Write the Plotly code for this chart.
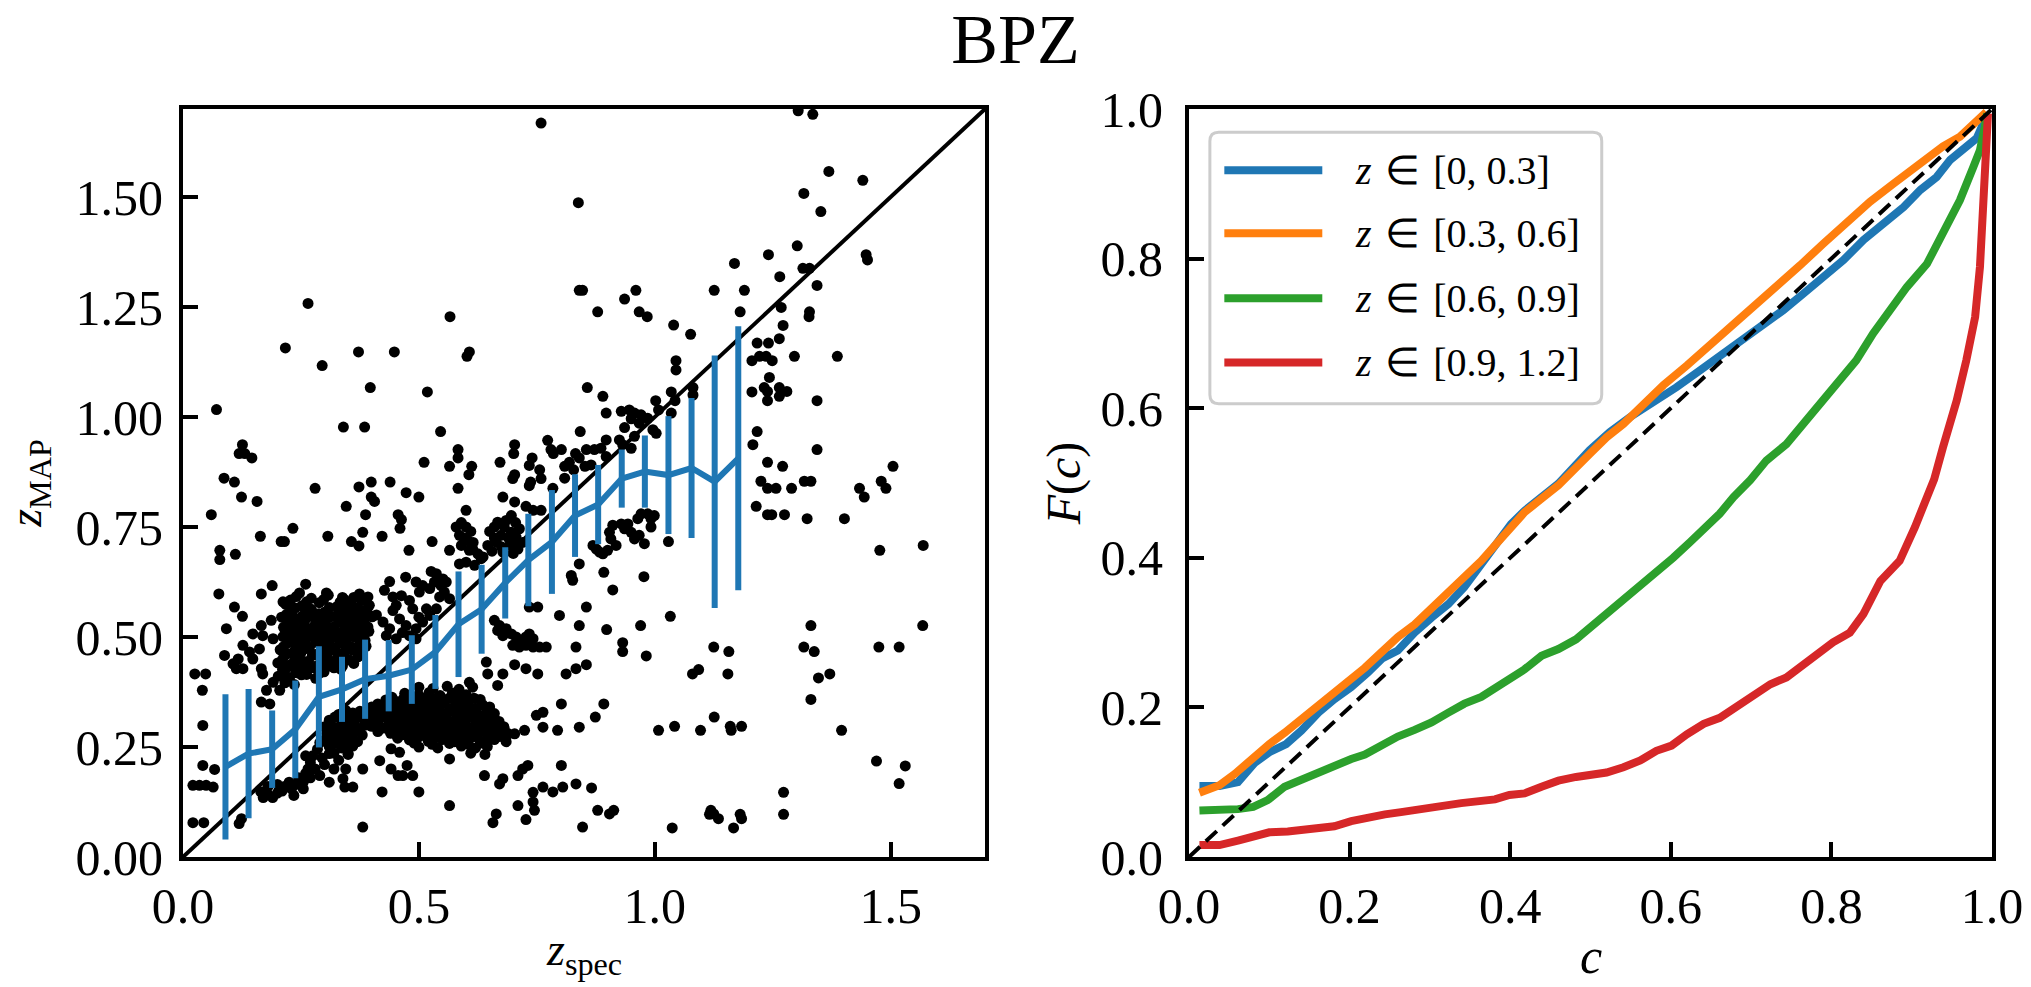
import plotly.graph_objects as go

# ---------------- data: left panel (z_spec, z_MAP) ----------------
pts_top = [(0.759,1.668),(0.838,1.487),(0.840,1.288),(0.847,1.288),(0.265,1.258),(0.566,1.228),(0.217,1.157),
 (0.372,1.148),(0.448,1.148),(0.607,1.148),(0.602,1.138),(0.295,1.117),(0.397,1.067),(0.518,1.057),(0.857,1.067),
 (0.071,1.017),(0.340,0.977),(0.385,0.977),(0.546,0.967),(0.842,0.967),(0.126,0.937),(0.119,0.917),(0.131,0.917),
 (0.146,0.907),(0.583,0.926),(0.583,0.907),(0.703,0.937),(0.701,0.917),(0.773,0.947),(0.780,0.926),(0.785,0.917),
 (0.802,0.926),(0.740,0.907),(0.734,0.890),(0.756,0.880),(0.511,0.897),(0.565,0.888),(0.612,0.888),(0.606,0.869),
 (0.672,0.897),(0.832,0.917),(0.840,0.907),(0.819,0.897),(0.809,0.888),(0.828,0.880),(0.852,0.888),(0.855,0.926),
 (0.703,0.869),(0.699,0.860),(0.087,0.861),(0.109,0.852),(0.399,0.852),(0.439,0.852),(0.737,0.852),(0.759,0.860),
 (0.809,0.861)]

pts_upper_right = [(1.304,1.696),(1.335,1.688),(1.369,1.558),(1.441,1.538),(1.316,1.508),(1.352,1.467),(1.302,1.389),
 (1.241,1.369),(1.169,1.349),(1.448,1.369),(1.451,1.357),(1.314,1.338),(1.328,1.338),(1.265,1.319),(1.344,1.299),
 (0.960,1.288),(0.936,1.268),(1.126,1.288),(1.190,1.288),(0.879,1.239),(0.967,1.239),(0.984,1.228),(1.181,1.239),
 (1.268,1.249),(1.328,1.239),(1.327,1.228),(1.040,1.209),(1.076,1.188),(1.272,1.208),(1.264,1.178),(1.217,1.168),
 (1.241,1.168),(1.206,1.128),(1.222,1.138),(1.236,1.138),(1.249,1.128),(1.296,1.138),(1.387,1.138),(1.045,1.128),
 (1.045,1.107),(1.243,1.090),(1.232,1.067),(1.239,1.058),(1.264,1.067),(1.280,1.058),(1.264,1.047),(1.239,1.037),
 (1.206,1.057),(1.344,1.037),(0.890,1.047),(1.035,1.057),(1.043,1.037),(1.002,1.037),(1.081,1.067),(1.081,1.050),
 (0.929,1.013),(0.946,1.016),(0.957,1.009),(0.971,1.005),(0.897,1.009),(1.008,1.016),(1.035,1.009),(0.950,0.996),
 (0.967,0.986),(0.985,0.997),(0.936,0.976),(0.996,0.971),(1.003,0.963),(0.897,0.948),(0.925,0.948),(0.932,0.937),
 (0.950,0.929),(0.957,0.956),(0.872,0.926),(0.886,0.929),(0.897,0.910),(0.865,0.891),(1.217,0.967),(1.208,0.937),
 (1.344,0.926),(1.239,0.897),(1.271,0.888),(1.505,0.888),(1.225,0.854),(1.317,0.854),(1.331,0.854),(1.480,0.854)]

pts_mid_sparse = [(0.124,0.818),(0.157,0.808),(0.060,0.778),(0.280,0.838),(0.346,0.797),(0.373,0.841),(0.399,0.818),
 (0.406,0.808),(0.387,0.778),(0.473,0.828),(0.500,0.818),(0.456,0.778),(0.463,0.767),(0.460,0.747),(0.381,0.738),
 (0.357,0.717),(0.373,0.707),(0.422,0.729),(0.307,0.729),(0.164,0.729),(0.208,0.717),(0.215,0.717),(0.233,0.747),
 (0.078,0.697),(0.078,0.676),(0.111,0.688),(0.479,0.697),(0.528,0.717)]

pts_cluster_diag = [(0.583,0.838),(0.600,0.788),(0.579,0.750),(0.600,0.750),(0.586,0.731),(0.604,0.719),(0.565,0.697),
 (0.590,0.708),(0.607,0.697),(0.678,0.818),(0.703,0.807),(0.696,0.776),(0.727,0.797),(0.742,0.788),(0.759,0.788),
 (0.784,0.838),(0.734,0.844),(0.667,0.761),(0.681,0.750),(0.696,0.738),(0.706,0.727),(0.674,0.731),(0.664,0.716),
 (0.646,0.708),(0.692,0.708),(0.710,0.700),(0.713,0.746),(0.678,0.693),(0.699,0.719),(0.614,0.700),(0.625,0.689),
 (0.632,0.678),(0.600,0.670),(0.586,0.666),(0.618,0.663),(0.636,0.682),(0.590,0.760),(0.610,0.740),(0.595,0.725),
 (0.615,0.715),(0.650,0.740),(0.660,0.750),(0.685,0.765),(0.705,0.760),(0.690,0.725),(0.675,0.705),(0.655,0.695),
 (0.720,0.715),(0.700,0.690),(0.660,0.725),
 (0.526,0.649),(0.537,0.644),(0.551,0.632),(0.558,0.625),(0.547,0.617),(0.533,0.625),(0.554,0.602),(0.565,0.587),
 (0.544,0.591),(0.523,0.610),(0.508,0.617),(0.494,0.625),(0.501,0.602),(0.537,0.564),(0.438,0.626),(0.472,0.636),
 (0.427,0.606),(0.445,0.591),(0.463,0.594),(0.452,0.572),(0.480,0.583),(0.374,0.598),(0.392,0.591),
 (0.424,0.534),(0.438,0.519),(0.459,0.541),(0.473,0.526),(0.494,0.519),(0.508,0.534),(0.523,0.549),(0.431,0.503),
 (0.452,0.496),(0.480,0.503),(0.494,0.496),(0.516,0.564),(0.487,0.564),(0.410,0.550),(0.445,0.560),(0.465,0.510),
 (0.500,0.545)]

pts_left = [(0.076,0.598),(0.109,0.568),(0.126,0.547),(0.092,0.519),(0.166,0.598),(0.189,0.617),(0.088,0.458),
 (0.106,0.439),(0.117,0.450),(0.127,0.428),(0.127,0.481),(0.141,0.466),(0.148,0.450),(0.166,0.428),(0.169,0.416),
 (0.113,0.428),(0.148,0.507),(0.166,0.526),(0.187,0.538),(0.169,0.503),(0.191,0.496),(0.162,0.473),(0.177,0.379),
 (0.205,0.379),(0.191,0.397),(0.166,0.352),(0.184,0.348),(0.212,0.580),(0.247,0.600),(0.260,0.620),(0.304,0.600),
 (0.338,0.590),(0.353,0.580)]

pts_cluster_high = [(0.240,0.592),(0.272,0.588),(0.308,0.595),(0.342,0.585),(0.362,0.590),(0.386,0.583),
 (0.218,0.574),(0.252,0.571),(0.289,0.578),(0.326,0.569),(0.349,0.576),(0.371,0.566),(0.395,0.572),
 (0.231,0.558),(0.262,0.561),(0.279,0.553),(0.301,0.557),(0.336,0.553),(0.356,0.562),(0.377,0.551),
 (0.209,0.545),(0.243,0.541),(0.268,0.547),(0.291,0.539),(0.312,0.546),(0.344,0.538),(0.366,0.544),(0.384,0.536),(0.401,0.546),
 (0.222,0.529),(0.251,0.532),(0.279,0.526),(0.302,0.533),(0.321,0.524),(0.339,0.531),(0.361,0.522),(0.381,0.528),
 (0.232,0.514),(0.259,0.517),(0.288,0.511),(0.316,0.518),(0.334,0.509),(0.356,0.516),(0.373,0.508),(0.394,0.513),
 (0.212,0.501),(0.244,0.497),(0.271,0.503),(0.298,0.496),(0.322,0.502),(0.346,0.494),(0.364,0.500),(0.386,0.492),
 (0.221,0.486),(0.252,0.483),(0.281,0.488),(0.309,0.481),(0.333,0.487),(0.354,0.479),(0.376,0.485),
 (0.206,0.471),(0.236,0.468),(0.262,0.474),(0.291,0.466),(0.318,0.472),(0.341,0.464),(0.359,0.470),(0.379,0.462),
 (0.214,0.456),(0.246,0.452),(0.274,0.458),(0.302,0.451),(0.329,0.457),(0.351,0.449),(0.371,0.455),
 (0.201,0.441),(0.229,0.438),(0.258,0.444),(0.286,0.436),(0.314,0.442),(0.338,0.434),(0.362,0.440),
 (0.211,0.426),(0.239,0.423),(0.268,0.429),(0.299,0.421),(0.334,0.427),
 (0.202,0.411),(0.226,0.408),(0.251,0.414),(0.281,0.406),(0.216,0.396),(0.236,0.392)]

pts_cluster_high_fill = [(0.228,0.584),(0.262,0.580),(0.298,0.585),(0.333,0.579),(0.378,0.583),
 (0.238,0.566),(0.272,0.563),(0.310,0.567),(0.342,0.562),(0.362,0.568),(0.386,0.561),
 (0.219,0.551),(0.253,0.548),(0.288,0.553),(0.322,0.547),(0.350,0.551),(0.372,0.546),(0.392,0.553),
 (0.232,0.537),(0.259,0.539),(0.282,0.534),(0.330,0.538),(0.356,0.534),(0.373,0.539),
 (0.213,0.522),(0.240,0.524),(0.268,0.519),(0.292,0.523),(0.311,0.518),(0.350,0.524),(0.370,0.519),(0.392,0.523),
 (0.223,0.507),(0.250,0.509),(0.280,0.504),(0.305,0.508),(0.326,0.504),(0.345,0.508),(0.384,0.504),
 (0.230,0.492),(0.260,0.494),(0.287,0.489),(0.312,0.493),(0.334,0.490),(0.375,0.493),
 (0.213,0.478),(0.240,0.480),(0.268,0.476),(0.296,0.479),(0.323,0.475),(0.345,0.479),(0.366,0.476),(0.388,0.479),
 (0.222,0.462),(0.250,0.464),(0.280,0.460),(0.307,0.463),(0.332,0.461),
 (0.210,0.447),(0.238,0.449),(0.266,0.445),(0.294,0.448),(0.322,0.446),(0.349,0.448),
 (0.222,0.432),(0.250,0.434),(0.278,0.430),(0.306,0.433),(0.320,0.430),
 (0.214,0.417),(0.240,0.419),(0.262,0.415),(0.290,0.418)]

pts_cluster_low = [(0.500,0.386),(0.530,0.383),(0.560,0.388),(0.585,0.381),
 (0.470,0.372),(0.500,0.368),(0.522,0.374),(0.545,0.367),(0.571,0.373),(0.600,0.369),
 (0.430,0.357),(0.455,0.353),(0.481,0.358),(0.505,0.352),(0.530,0.356),(0.551,0.351),(0.576,0.357),(0.604,0.354),(0.630,0.358),
 (0.400,0.341),(0.426,0.338),(0.450,0.343),(0.476,0.337),(0.500,0.342),(0.521,0.336),(0.540,0.341),(0.566,0.337),(0.590,0.343),(0.620,0.338),(0.650,0.341),
 (0.330,0.324),(0.360,0.327),(0.390,0.322),(0.415,0.326),(0.440,0.323),(0.462,0.328),(0.485,0.322),(0.510,0.327),(0.531,0.321),(0.556,0.326),(0.580,0.323),(0.606,0.328),(0.636,0.322),(0.660,0.326),
 (0.310,0.311),(0.336,0.308),(0.360,0.313),(0.385,0.307),(0.410,0.312),(0.436,0.309),(0.456,0.313),(0.480,0.307),(0.500,0.311),(0.526,0.308),(0.546,0.313),(0.570,0.307),(0.596,0.312),(0.620,0.308),(0.646,0.312),(0.670,0.308),
 (0.300,0.296),(0.326,0.293),(0.350,0.297),(0.376,0.292),(0.400,0.297),(0.426,0.293),(0.450,0.298),(0.471,0.292),(0.496,0.296),(0.516,0.293),(0.540,0.297),(0.561,0.292),(0.586,0.297),(0.610,0.293),(0.636,0.297),(0.656,0.292),(0.680,0.296),
 (0.305,0.281),(0.331,0.278),(0.356,0.282),(0.380,0.277),(0.440,0.281),(0.466,0.278),(0.490,0.282),(0.510,0.277),(0.536,0.281),(0.556,0.278),(0.580,0.282),(0.600,0.277),(0.626,0.281),(0.650,0.278),(0.690,0.280),
 (0.300,0.266),(0.320,0.263),(0.346,0.267),(0.370,0.262),(0.480,0.266),(0.520,0.263),(0.550,0.267),(0.576,0.262),(0.600,0.266),(0.630,0.263),(0.660,0.267),(0.685,0.262),
 (0.310,0.251),(0.336,0.248),(0.360,0.252),(0.500,0.250),(0.540,0.248),(0.590,0.252),(0.620,0.248),(0.645,0.251),
 (0.320,0.236),(0.350,0.233),(0.610,0.236),(0.640,0.233)]

pts_cluster_low_fill = [(0.443,0.363),(0.468,0.361),(0.493,0.364),(0.517,0.360),(0.540,0.363),(0.563,0.360),(0.590,0.364),(0.617,0.361),
 (0.413,0.348),(0.438,0.346),(0.463,0.349),(0.488,0.345),(0.511,0.348),(0.533,0.346),(0.553,0.349),(0.578,0.345),(0.605,0.348),(0.635,0.346),
 (0.345,0.333),(0.375,0.331),(0.402,0.334),(0.428,0.330),(0.451,0.333),(0.474,0.331),(0.497,0.334),(0.520,0.330),(0.543,0.333),(0.568,0.331),(0.593,0.334),(0.621,0.330),(0.648,0.333),
 (0.322,0.318),(0.348,0.316),(0.373,0.319),(0.398,0.315),(0.423,0.318),(0.446,0.316),(0.468,0.319),(0.490,0.315),(0.513,0.318),(0.536,0.316),(0.558,0.319),(0.583,0.315),(0.608,0.318),(0.633,0.316),(0.658,0.319),
 (0.313,0.303),(0.338,0.301),(0.363,0.304),(0.388,0.300),(0.413,0.303),(0.438,0.301),(0.460,0.304),(0.483,0.300),(0.506,0.303),(0.528,0.301),(0.551,0.304),(0.573,0.300),(0.598,0.303),(0.623,0.301),(0.646,0.304),(0.668,0.300),
 (0.318,0.288),(0.343,0.286),(0.368,0.289),(0.413,0.285),(0.452,0.288),(0.478,0.286),(0.500,0.289),(0.523,0.285),(0.546,0.288),(0.568,0.286),(0.590,0.289),(0.613,0.285),(0.638,0.288),(0.662,0.286),
 (0.312,0.273),(0.333,0.271),(0.358,0.274),(0.455,0.270),(0.500,0.273),(0.535,0.271),(0.562,0.274),(0.588,0.270),(0.614,0.273),(0.645,0.271),(0.672,0.274),
 (0.322,0.258),(0.348,0.256),(0.490,0.259),(0.528,0.256),(0.565,0.258),(0.605,0.256),(0.632,0.259)]

pts_cluster_diag_low = [(0.165,0.148),(0.180,0.142),(0.190,0.135),(0.200,0.145),(0.210,0.150),(0.215,0.160),(0.225,0.170),
 (0.230,0.155),(0.240,0.165),(0.245,0.180),(0.255,0.170),(0.260,0.190),(0.265,0.200),(0.270,0.215),(0.275,0.230),
 (0.280,0.200),(0.285,0.245),(0.290,0.260),(0.270,0.180),(0.255,0.155),(0.295,0.225),(0.300,0.210),(0.310,0.235),
 (0.320,0.200),(0.330,0.220),(0.340,0.250),(0.345,0.200),(0.350,0.235),(0.180,0.160),(0.200,0.165),(0.235,0.140),
 (0.260,0.230),(0.290,0.185),(0.310,0.170),(0.170,0.135)]

pts_low_sparse = [(0.021,0.163),(0.035,0.163),(0.049,0.163),(0.064,0.159),(0.021,0.078),(0.044,0.078),(0.042,0.299),
 (0.042,0.208),(0.067,0.199),(0.025,0.416),(0.048,0.416),(0.041,0.379),(0.124,0.087),(0.119,0.076),(0.381,0.068),
 (0.339,0.178),(0.360,0.159),(0.343,0.159),(0.422,0.148),(0.500,0.148),(0.381,0.200),(0.417,0.219),(0.441,0.200),
 (0.456,0.185),(0.466,0.185),(0.487,0.185),(0.475,0.208),(0.459,0.238),(0.441,0.246),(0.565,0.223),(0.565,0.117),
 (0.639,0.185),(0.678,0.178),(0.671,0.166),(0.720,0.200),(0.731,0.208),(0.710,0.185),(0.664,0.098),(0.657,0.078),
 (0.710,0.117),(0.727,0.085),(0.745,0.106),(0.742,0.125),(0.742,0.147),(0.763,0.159),(0.784,0.148),(0.805,0.159),
 (0.833,0.166),(0.802,0.208),(0.847,0.068),
 (0.763,0.329),(0.749,0.322),(0.763,0.295),(0.794,0.288),(0.802,0.348),(0.840,0.295),(0.724,0.288),(0.664,0.307),
 (0.681,0.291),(0.703,0.280),(0.607,0.397),(0.614,0.386),(0.667,0.390),(0.678,0.416),(0.646,0.416),(0.643,0.443),
 (0.703,0.437),(0.727,0.428),(0.752,0.416),(0.812,0.416),(0.833,0.428),(0.855,0.437),(0.833,0.477),(0.840,0.526),
 (0.798,0.549),(0.840,0.666),(0.823,0.640),(0.826,0.629),(0.855,0.568),(0.752,0.568),(0.734,0.568),
 (0.660,0.538),(0.671,0.526),(0.685,0.519),(0.696,0.507),(0.706,0.500),(0.717,0.488),(0.727,0.481),(0.742,0.477),
 (0.756,0.477),(0.770,0.477),(0.734,0.507),(0.742,0.496),(0.678,0.503),(0.699,0.481),(0.667,0.515),(0.713,0.477),
 (0.727,0.500)]

pts_right = [(0.971,0.780),(0.985,0.780),(0.999,0.776),(0.964,0.769),(0.992,0.769),(0.943,0.757),(0.929,0.757),
 (0.911,0.754),(0.904,0.738),(0.950,0.738),(0.967,0.731),(0.978,0.712),(0.918,0.708),(0.900,0.697),(0.883,0.693),
 (0.869,0.708),(0.876,0.700),(0.890,0.689),(0.992,0.750),(0.907,0.723),(0.957,0.723),(0.936,0.746),
 (1.239,0.838),(1.257,0.838),(1.290,0.838),(1.434,0.838),(1.444,0.818),(1.490,0.838),
 (1.215,0.797),(1.239,0.778),(1.248,0.778),(1.275,0.778),(1.323,0.769),(1.402,0.769),(1.029,0.717),(1.477,0.697),
 (1.569,0.708),(0.892,0.647),(0.977,0.637),(0.911,0.607),(1.033,0.547),(0.970,0.526),(0.898,0.517),(1.331,0.526),
 (1.568,0.526),(0.932,0.487),(0.932,0.467),(0.982,0.457),(1.125,0.477),(1.157,0.467),(1.316,0.477),(1.338,0.467),
 (1.475,0.477),(1.518,0.477),(1.080,0.416),(1.093,0.426),(1.155,0.416),(1.347,0.407),(1.371,0.416),(1.331,0.358),
 (0.892,0.348),(0.874,0.318),(1.008,0.288),(1.042,0.297),(1.097,0.288),(1.126,0.318),(1.160,0.297),(1.162,0.288),
 (1.184,0.297),(1.396,0.288),(1.470,0.218),(1.531,0.207),(1.518,0.167),(0.866,0.157),(1.273,0.147),(1.273,0.097),
 (0.879,0.106),(0.904,0.098),(0.913,0.106),(1.119,0.106),(1.125,0.098),(1.135,0.087),(1.116,0.097),(1.181,0.097),
 (1.184,0.087),(1.167,0.066),(1.037,0.066)]

# binned mean and scatter (blue error bars)
bin_z = [0.090,0.139,0.189,0.238,0.288,0.337,0.386,0.436,0.485,0.535,0.584,0.633,
         0.683,0.732,0.782,0.831,0.880,0.930,0.979,1.029,1.078,1.127,1.177]
bin_mean = [0.205,0.235,0.245,0.290,0.364,0.381,0.404,0.412,0.426,0.466,0.529,0.563,
            0.623,0.675,0.716,0.776,0.801,0.860,0.876,0.868,0.884,0.853,0.906]
bin_sigma = [0.165,0.147,0.088,0.111,0.115,0.074,0.090,0.081,0.078,0.084,0.120,0.101,
             0.081,0.105,0.118,0.094,0.090,0.066,0.082,0.134,0.159,0.287,0.300]

z_range = [0.0, 1.7]

# ---------------- data: right panel (coverage F(c)) ----------------
c_z1 = [0.013,0.038,0.061,0.082,0.100,0.121,0.140,0.161,0.181,0.202,0.223,0.240,0.260,0.281,0.302,0.323,0.343,
        0.364,0.383,0.401,0.418,0.439,0.460,0.499,0.524,0.549,0.583,0.607,0.637,0.666,0.690,0.715,0.740,0.765,
        0.790,0.815,0.840,0.865,0.890,0.911,0.931,0.948,0.964,0.981,0.993]
F_z1 = [0.095,0.095,0.100,0.126,0.140,0.151,0.169,0.193,0.211,0.227,0.247,0.265,0.276,0.300,0.320,0.338,0.361,
        0.392,0.416,0.445,0.463,0.481,0.499,0.544,0.568,0.588,0.610,0.628,0.651,0.673,0.691,0.709,0.731,0.753,
        0.776,0.798,0.825,0.847,0.869,0.892,0.909,0.932,0.945,0.961,0.990]

c_z2 = [0.013,0.038,0.057,0.080,0.100,0.119,0.140,0.161,0.181,0.202,0.219,0.240,0.260,0.281,0.302,0.323,0.343,
        0.364,0.383,0.401,0.418,0.439,0.460,0.499,0.520,0.541,0.566,0.591,0.620,0.649,0.678,0.707,0.736,0.761,
        0.790,0.819,0.848,0.877,0.898,0.919,0.939,0.960,0.977,0.993]
F_z2 = [0.086,0.096,0.111,0.134,0.151,0.166,0.184,0.205,0.222,0.240,0.253,0.274,0.294,0.311,0.332,0.354,0.374,
        0.396,0.419,0.441,0.461,0.479,0.497,0.539,0.561,0.579,0.606,0.631,0.657,0.684,0.713,0.740,0.767,0.791,
        0.820,0.849,0.876,0.900,0.918,0.936,0.950,0.963,0.979,0.996]

c_z3 = [0.013,0.038,0.061,0.080,0.098,0.119,0.140,0.161,0.181,0.202,0.219,0.240,0.260,0.281,0.302,0.323,0.343,
        0.364,0.383,0.401,0.418,0.439,0.460,0.482,0.501,0.520,0.541,0.562,0.582,0.603,0.624,0.645,0.661,0.678,
        0.699,0.719,0.744,0.765,0.790,0.815,0.831,0.852,0.873,0.894,0.919,0.939,0.960,0.977,0.985,0.991,0.994]
F_z3 = [0.062,0.062,0.064,0.067,0.076,0.094,0.104,0.112,0.122,0.131,0.137,0.150,0.161,0.170,0.180,0.193,0.205,
        0.214,0.227,0.240,0.251,0.269,0.278,0.291,0.308,0.323,0.343,0.361,0.381,0.400,0.421,0.441,0.459,0.481,
        0.504,0.530,0.552,0.579,0.610,0.642,0.664,0.700,0.731,0.762,0.793,0.834,0.878,0.923,0.945,0.976,0.994]

c_z4 = [0.013,0.038,0.061,0.082,0.100,0.123,0.144,0.165,0.181,0.202,0.223,0.244,0.264,0.289,0.314,0.339,0.360,
        0.381,0.399,0.418,0.439,0.460,0.482,0.499,0.520,0.541,0.562,0.582,0.601,0.620,0.641,0.661,0.682,0.703,
        0.724,0.744,0.765,0.786,0.802,0.823,0.840,0.861,0.885,0.904,0.919,0.928,0.939,0.956,0.968,0.979,0.985,
        0.989,0.993,0.995]
F_z4 = [0.016,0.016,0.022,0.027,0.033,0.034,0.036,0.038,0.041,0.048,0.053,0.057,0.060,0.063,0.068,0.072,0.074,
        0.077,0.083,0.085,0.094,0.102,0.107,0.109,0.113,0.120,0.129,0.142,0.149,0.164,0.178,0.186,0.201,0.214,
        0.231,0.240,0.257,0.274,0.287,0.300,0.325,0.369,0.396,0.441,0.477,0.505,0.548,0.610,0.664,0.722,0.789,
        0.865,0.945,0.994]

c_range = [0.0, 1.0]

curve_labels = ["z ∈ [0, 0.3]", "z ∈ [0.3, 0.6]", "z ∈ [0.6, 0.9]", "z ∈ [0.9, 1.2]"]
curve_colors = ["#1f77b4", "#ff7f0e", "#2ca02c", "#d62728"]

# ---------------- figure ----------------
W, H = 2031, 987
FONT = "Liberation Serif"

groups = [pts_top, pts_upper_right, pts_mid_sparse, pts_cluster_diag, pts_left,
          pts_cluster_high, pts_cluster_high_fill, pts_cluster_low, pts_cluster_low_fill,
          pts_cluster_diag_low, pts_low_sparse, pts_right]
z_spec = [p[0] for g in groups for p in g]
z_map = [p[1] for g in groups for p in g]

fig = go.Figure()
fig.add_trace(go.Scatter(x=z_spec, y=z_map, mode="markers", xaxis="x", yaxis="y",
                         marker=dict(color="black", size=11, line=dict(width=0)), showlegend=False))
fig.add_trace(go.Scatter(x=z_range, y=z_range, mode="lines", xaxis="x", yaxis="y",
                         line=dict(color="black", width=4), showlegend=False))
fig.add_trace(go.Scatter(x=bin_z, y=bin_mean, mode="lines", xaxis="x", yaxis="y",
                         line=dict(color="#1f77b4", width=6),
                         error_y=dict(type="data", array=bin_sigma, visible=True, thickness=6,
                                      width=0, color="#1f77b4"),
                         showlegend=False))

for cx, fy, col, lab in zip([c_z1, c_z2, c_z3, c_z4], [F_z1, F_z2, F_z3, F_z4], curve_colors, curve_labels):
    fig.add_trace(go.Scatter(x=cx, y=fy, mode="lines", xaxis="x2", yaxis="y2", name=lab,
                             line=dict(color=col, width=8), showlegend=False))
fig.add_trace(go.Scatter(x=c_range, y=c_range, mode="lines", xaxis="x2", yaxis="y2",
                         line=dict(color="black", width=4, dash="15px,8px"), showlegend=False))

# plot area edges in pixels
L_left, L_right = 183, 985
R_left, R_right = 1189, 1992
P_top, P_bot = 109, 857
ml, mr, mt, mb = L_left, W - R_right, P_top, H - P_bot
pw = W - ml - mr

axis_common = dict(showgrid=False, zeroline=False, showline=True, linecolor="black", linewidth=4,
                   mirror=True, ticks="inside", ticklen=15, tickwidth=4, tickcolor="black",
                   tickfont=dict(family=FONT, size=50, color="black"), automargin=False)

fig.update_layout(
    width=W, height=H, autosize=False,
    margin=dict(l=ml, r=mr, t=mt, b=mb, pad=0),
    paper_bgcolor="white", plot_bgcolor="white",
    font=dict(family=FONT, color="black"),
    showlegend=False,
    title=dict(text="BPZ", x=0.5, xanchor="center", xref="container", y=1 - 38 / H, yanchor="middle",
               yref="container", font=dict(family=FONT, size=70, color="black")),
    xaxis=dict(axis_common, domain=[0, (L_right - L_left) / pw], range=z_range,
               tickvals=[0, 0.5, 1.0, 1.5], tickformat=".1f", anchor="y", ticklabelstandoff=2),
    yaxis=dict(axis_common, domain=[0, 1], range=z_range, tickvals=[0, 0.25, 0.5, 0.75, 1.0, 1.25, 1.5],
               tickformat=".2f", anchor="x", ticklabelstandoff=6,
               title=dict(text="<i>z</i><sub>MAP</sub>", font=dict(family=FONT, size=46), standoff=30)),
    xaxis2=dict(axis_common, domain=[(R_left - L_left) / pw, 1], range=c_range, dtick=0.2, tick0=0,
                tickformat=".1f", anchor="y2", ticklabelstandoff=2),
    yaxis2=dict(axis_common, domain=[0, 1], range=c_range, dtick=0.2, tick0=0, tickformat=".1f",
                anchor="x2", ticklabelstandoff=12,
                title=dict(text="<i>F</i>(<i>c</i>)", font=dict(family=FONT, size=48), standoff=6)),
)

# x-axis titles
fig.add_annotation(text="<i>z</i><sub>spec</sub>", xref="x domain", yref="y domain", x=0.5,
                   y=(P_bot - 922) / (P_bot - P_top), xanchor="center", yanchor="top", showarrow=False,
                   font=dict(family=FONT, size=46, color="black"))
fig.add_annotation(text="<i>c</i>", xref="x2 domain", yref="y2 domain", x=0.5,
                   y=(P_bot - 926) / (P_bot - P_top), xanchor="center", yanchor="top", showarrow=False,
                   font=dict(family=FONT, size=50, color="black"))

# legend (drawn in the right panel's axes fraction)
lx0, lx1, ly0, ly1 = 0.026, 0.514, 0.606, 0.969
rx, ry = 0.011, 0.012
path = (f"M {lx0+rx},{ly0} L {lx1-rx},{ly0} Q {lx1},{ly0} {lx1},{ly0+ry} L {lx1},{ly1-ry} "
        f"Q {lx1},{ly1} {lx1-rx},{ly1} L {lx0+rx},{ly1} Q {lx0},{ly1} {lx0},{ly1-ry} "
        f"L {lx0},{ly0+ry} Q {lx0},{ly0} {lx0+rx},{ly0} Z")
fig.add_shape(type="path", path=path, xref="x2", yref="y2", fillcolor="rgba(255,255,255,0.8)",
              line=dict(color="#cccccc", width=3), layer="above")
row_y = [0.918, 0.834, 0.747, 0.661]
for yy, col, lab in zip(row_y, curve_colors, curve_labels):
    fig.add_shape(type="line", x0=0.044, x1=0.166, y0=yy, y1=yy, xref="x2", yref="y2",
                  line=dict(color=col, width=8), layer="above")
    z_, rest = lab.split(" ∈ ")
    fig.add_annotation(x=0.204, y=yy, xref="x2", yref="y2", xanchor="left", yanchor="middle",
                       text=f"<i>{z_}</i>\u2004∈\u2004{rest}", showarrow=False,
                       font=dict(family=FONT, size=40, color="black"))

fig.write_html("out.html")
